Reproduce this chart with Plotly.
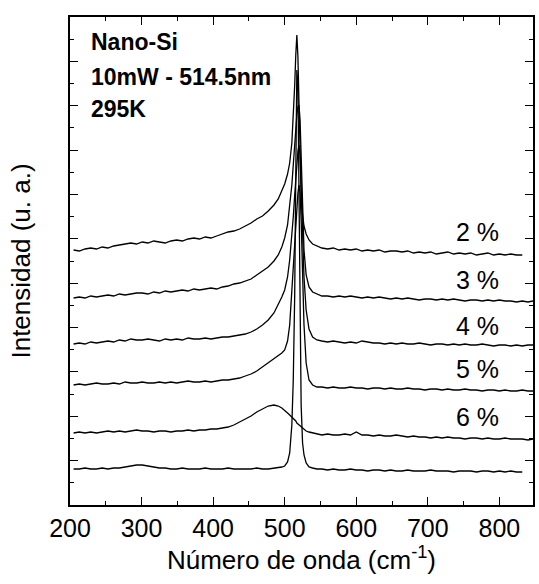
import plotly.graph_objects as go

# ---- data: wavenumber grid (cm^-1) and intensities (arbitrary units, stacked) ----
wavenumber = [205, 213, 221, 229, 237, 245, 253, 261, 269, 277, 285, 293, 301, 309, 317, 325, 333, 341,
              349, 357, 365, 373, 381, 389, 397, 405, 413, 421, 429, 437, 445, 453, 461, 469, 477, 485,
              491, 496, 500, 504, 507, 510, 512, 514, 515.5, 517, 518.5, 520, 521.5, 523, 525, 527, 530,
              534, 539, 545, 552,
              560, 568, 576, 584, 592, 600, 608, 616, 624, 632, 640, 648, 656, 664, 672, 680, 688, 696,
              704, 712, 720, 728, 736, 744, 752, 760, 768, 776, 784, 792, 800, 808, 816, 824, 832, 840, 847]

int_2 = [255, 254, 256, 257, 256, 258, 257, 259, 260, 261, 262, 261, 263, 262, 264, 263, 262, 264,
         265, 264, 266, 267, 266, 268, 267, 269, 271, 273, 274, 276, 279, 282, 286, 289, 294, 300,
         306, 314, 321, 331, 342, 362, 385, 420, 450, 470, 448, 395, 345, 310, 290, 279, 271,
         265, 261, 259, 257,
         256, 257, 255, 256, 255, 256, 254, 255, 254, 255, 253, 254, 254, 253, 254, 252, 253, 252,
         253, 251, 252, 253, 251, 252, 251, 252, 250, 251, 252, 250, 251, 250, 251, 250, 250]

int_3 = [207, 208, 207, 209, 208, 209, 210, 209, 211, 210, 211, 212, 212, 211, 213, 212, 214, 213,
         214, 215, 214, 216, 215, 216, 217, 216, 218, 219, 221, 222, 224, 226, 230, 234, 238, 244,
         250, 258, 267, 280, 297, 320, 340, 362, 378, 390, 398, 400, 385, 345, 290, 255, 230,
         218, 213, 211, 209,
         209, 208, 209, 208, 209, 208, 207, 208, 207, 208, 207, 206, 207, 206, 207, 206, 205, 206,
         206, 205, 206, 205, 206, 205, 204, 205, 205, 204, 205, 204, 205, 204, 204, 203, 204, 203, 204]

int_4 = [161, 162, 161, 163, 162, 163, 164, 163, 165, 164, 166, 165, 165, 166, 165, 164, 166, 165,
         166, 165, 167, 166, 166, 167, 166, 167, 168, 168, 169, 170, 171, 173, 176, 180, 185, 192,
         200, 208, 215, 228, 245, 268, 288, 310, 326, 342, 354, 360, 350, 318, 270, 228, 195,
         176, 168, 165, 164,
         163, 164, 163, 162, 163, 162, 164, 163, 162, 162, 161, 162, 161, 162, 161, 161, 162, 161,
         160, 161, 161, 160, 161, 160, 161, 160, 160, 161, 160, 159, 160, 160, 159, 160, 159, 160, 160]

int_5 = [120, 121, 120, 121, 122, 121, 121, 122, 121, 123, 122, 122, 123, 122, 122, 123, 122, 123,
         122, 123, 124, 123, 123, 124, 123, 124, 125, 125, 126, 127, 129, 131, 134, 138, 142, 146,
         149, 152, 155, 164, 180, 215, 240, 268, 285, 300, 312, 320, 312, 285, 230, 180, 142,
         125, 120, 118, 118,
         117, 118, 117, 117, 118, 117, 117, 116, 117, 117, 116, 117, 116, 116, 117, 116, 116, 115,
         116, 116, 115, 116, 115, 115, 116, 115, 115, 114, 115, 115, 114, 115, 114, 114, 115, 114, 114]

int_6 = [72, 73, 72, 73, 72, 73, 74, 73, 74, 73, 74, 75, 74, 74, 73, 74, 74, 73,
         74, 74, 75, 74, 75, 75, 76, 76, 77, 78, 80, 83, 86, 89, 93, 96, 99, 100,
         99, 97, 94, 92, 90, 88, 86, 85, 84, 82, 81, 80, 79, 78, 77, 76, 74,
         73, 72, 71, 70,
         71, 70, 70, 71, 70, 73, 70, 70, 69, 70, 69, 69, 70, 69, 68, 69, 68, 68,
         67, 68, 67, 68, 67, 67, 66, 67, 67, 66, 67, 66, 66, 67, 66, 66, 66, 65, 66]

int_c = [36, 36, 37, 36, 36, 37, 36, 37, 37, 38, 39, 40, 40, 39, 38, 37, 37, 36,
         36, 37, 36, 36, 36, 37, 36, 36, 36, 37, 36, 36, 36, 36, 37, 36, 36, 37,
         37, 38, 39, 43, 52, 80, 125, 210, 330, 435, 420, 300, 170, 100, 62, 50, 42,
         38, 37, 36, 36,
         35, 36, 35, 35, 36, 35, 35, 34, 35, 35, 34, 35, 34, 34, 35, 34, 34, 34,
         35, 34, 34, 34, 33, 34, 34, 34, 33, 34, 34, 33, 34, 33, 34, 33, 33]

series = [int_2, int_3, int_4, int_5, int_6, int_c]

labels = ["2 %", "3 %", "4 %", "5 %", "6 %"]
label_x = [769, 769, 769, 769, 769]
label_y = [273, 225, 179, 136, 88]

info_text = ["Nano-Si", "10mW - 514.5nm", "295K"]
info_y = [463, 428, 396]

FONT = "Liberation Sans, Arial, sans-serif"

fig = go.Figure()
for ys in series:
    fig.add_trace(go.Scatter(x=wavenumber[:len(ys)], y=ys, mode="lines",
                             line=dict(color="black", width=1.3),
                             showlegend=False, hoverinfo="skip"))

for t, xx, yy in zip(labels, label_x, label_y):
    fig.add_annotation(x=xx, y=yy, text=t, showarrow=False,
                       font=dict(family=FONT, size=25, color="black"),
                       xanchor="center", yanchor="middle")

for t, yy in zip(info_text, info_y):
    fig.add_annotation(x=227, y=yy, text="<b>" + t + "</b>", showarrow=False,
                       font=dict(family=FONT, size=23, color="black"),
                       xanchor="left", yanchor="middle")

fig.update_layout(
    width=539, height=584,
    margin=dict(l=70, r=4, t=17, b=79),
    paper_bgcolor="white", plot_bgcolor="white",
    font=dict(family=FONT, color="black"),
)
fig.update_xaxes(
    range=[200, 847], showgrid=False, zeroline=False,
    showline=True, linecolor="black", linewidth=1.6, mirror="ticks",
    ticks="inside", ticklen=8, tickwidth=1.4, tickcolor="black",
    tick0=0, dtick=100,
    minor=dict(ticks="inside", ticklen=4, tickwidth=1.2, tickcolor="black", dtick=50, showgrid=False),
    tickfont=dict(size=25, family=FONT),
    title=dict(text="Número de onda (cm<sup>-1</sup>)", font=dict(size=26, family=FONT), standoff=6),
)
fig.update_yaxes(
    range=[0, 488], showgrid=False, zeroline=False,
    showline=True, linecolor="black", linewidth=1.6, mirror="ticks",
    ticks="inside", ticklen=8, tickwidth=1.4, tickcolor="black",
    tick0=0, dtick=44.36, showticklabels=False,
    minor=dict(ticks="inside", ticklen=4, tickwidth=1.2, tickcolor="black", dtick=22.18, showgrid=False),
    title=dict(text="Intensidad (u. a.)", font=dict(size=26, family=FONT), standoff=30),
)

fig.write_html("out.html")
